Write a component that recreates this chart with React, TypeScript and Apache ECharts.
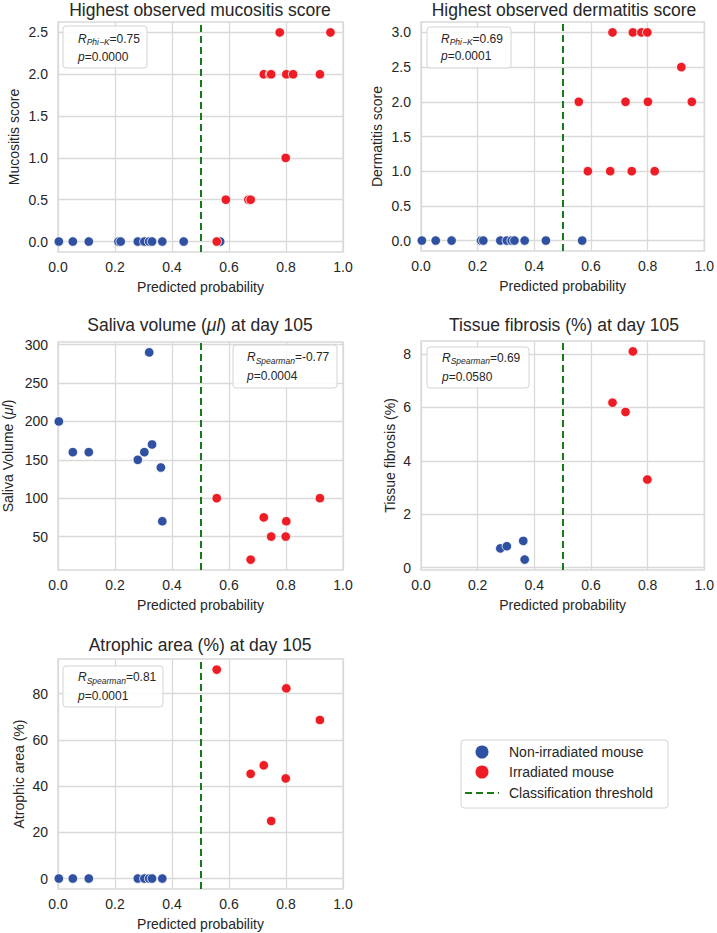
import React, { useEffect, useRef } from 'react';
import * as echarts from 'echarts';

// ---- Data ----
// predicted probabilities per mouse
const nonIrrProb = [0.003, 0.052, 0.108, 0.212, 0.22, 0.28, 0.303, 0.32, 0.33, 0.366, 0.441, 0.569];
const irrProb = [0.557, 0.589, 0.668, 0.676, 0.722, 0.744, 0.748, 0.778, 0.799, 0.801, 0.825, 0.919, 0.956];

// Panel 1: mucositis
const mucoNonIrr = [0, 0, 0, 0, 0, 0, 0, 0, 0, 0, 0, 0];
const mucoIrr = [0, 0.5, 0.5, 0.5, 2, 2, 2, 2.5, 1, 2, 2, 2, 2.5];

// Panel 2: dermatitis
const dermNonIrr = [0, 0, 0, 0, 0, 0, 0, 0, 0, 0, 0, 0];
const dermIrr = [2, 1, 1, 3, 2, 1, 3, 3, 3, 2, 1, 2.5, 2];

// Panel 3: saliva volume
const salivaNonIrrX = [0.003, 0.052, 0.108, 0.28, 0.303, 0.33, 0.32, 0.361, 0.366];
const salivaNonIrrY = [200, 160, 160, 150, 160, 170, 290, 140, 70];
const salivaIrrX = [0.557, 0.676, 0.722, 0.748, 0.801, 0.799, 0.919];
const salivaIrrY = [100, 20, 75, 50, 70, 50, 100];

// Panel 4: tissue fibrosis
const fibNonIrrX = [0.28, 0.303, 0.361, 0.366];
const fibNonIrrY = [0.72, 0.8, 1.0, 0.3];
const fibIrrX = [0.676, 0.722, 0.748, 0.799];
const fibIrrY = [6.18, 5.83, 8.1, 3.3];

// Panel 5: atrophic area
const atrNonIrrX = [0.003, 0.052, 0.108, 0.28, 0.303, 0.32, 0.33, 0.366];
const atrNonIrrY = [0, 0, 0, 0, 0, 0, 0, 0];
const atrIrrX = [0.557, 0.676, 0.722, 0.748, 0.799, 0.801, 0.919];
const atrIrrY = [90.4, 45.3, 49.0, 24.9, 43.3, 82.3, 68.6];

// ticks
const xTicks = [0, 0.2, 0.4, 0.6, 0.8, 1.0];
const mucoTicks = [0, 0.5, 1.0, 1.5, 2.0, 2.5];
const dermTicks = [0, 0.5, 1.0, 1.5, 2.0, 2.5, 3.0];
const salivaTicks = [50, 100, 150, 200, 250, 300];
const fibTicks = [0, 2, 4, 6, 8];
const atrTicks = [0, 20, 40, 60, 80];

const threshold = 0.5;

const FONT = '"Liberation Sans", Arial, sans-serif';
const TXT = '#262626';
const GRIDC = '#d9d9d9';
const BLUE = '#3050a2';
const RED = '#ee1c25';
const GREEN = '#187a18';

const zip = (xs: number[], ys: number[]) => xs.map((x, i) => [x, ys[i]]);

export default function App() {
  const ref = useRef<HTMLDivElement>(null);
  useEffect(() => {
    if (!ref.current) return;
    const chart = echarts.init(ref.current, undefined, { renderer: 'svg' });

    const grids = [
      { left: 58, top: 22, width: 285, height: 230 },
      { left: 421, top: 22, width: 286, height: 229 },
      { left: 58, top: 342, width: 285, height: 228 },
      { left: 421, top: 341, width: 286, height: 229 },
      { left: 58, top: 659, width: 285, height: 230 },
    ];
    const yCfg = [
      { min: -0.125, max: 2.625, ticks: mucoTicks, dec: 1, name: 'Mucositis score', gap: 37 },
      { min: -0.15, max: 3.15, ticks: dermTicks, dec: 1, name: 'Dermatitis score', gap: 37 },
      { min: 6.5, max: 303.5, ticks: salivaTicks, dec: 0, name: 'Saliva Volume ({i|μl})', gap: 43 },
      { min: -0.09, max: 8.49, ticks: fibTicks, dec: 0, name: 'Tissue fibrosis (%)', gap: 24 },
      { min: -4.53, max: 95.0, ticks: atrTicks, dec: 0, name: 'Atrophic area (%)', gap: 32 },
    ];
    const seriesData = [
      [zip(nonIrrProb, mucoNonIrr), zip(irrProb, mucoIrr)],
      [zip(nonIrrProb, dermNonIrr), zip(irrProb, dermIrr)],
      [zip(salivaNonIrrX, salivaNonIrrY), zip(salivaIrrX, salivaIrrY)],
      [zip(fibNonIrrX, fibNonIrrY), zip(fibIrrX, fibIrrY)],
      [zip(atrNonIrrX, atrNonIrrY), zip(atrIrrX, atrIrrY)],
    ];

    const xAxis = grids.map((_, i) => ({
      type: 'value',
      gridIndex: i,
      min: 0,
      max: 1,
      name: 'Predicted probability',
      nameLocation: 'middle',
      nameGap: 28,
      nameTextStyle: { fontFamily: FONT, fontSize: 14, color: TXT },
      axisLine: { show: false },
      axisTick: { show: false, customValues: xTicks },
      axisLabel: {
        customValues: xTicks,
        margin: 8,
        fontFamily: FONT,
        fontSize: 14,
        color: TXT,
        formatter: (v: number) => v.toFixed(1),
      },
      splitLine: { show: true, lineStyle: { color: GRIDC, width: 1.3 } },
    }));
    const yAxis = yCfg.map((c, i) => ({
      type: 'value',
      gridIndex: i,
      min: c.min,
      max: c.max,
      name: c.name,
      nameLocation: 'middle',
      nameGap: c.gap,
      nameTextStyle: {
        fontFamily: FONT,
        fontSize: 14,
        color: TXT,
        rich: { i: { fontFamily: FONT, fontSize: 14, color: TXT, fontStyle: 'italic' } },
      },
      axisLine: { show: false },
      axisTick: { show: false, customValues: c.ticks },
      axisLabel: {
        customValues: c.ticks,
        margin: 10,
        fontFamily: FONT,
        fontSize: 14,
        color: TXT,
        formatter: (v: number) => v.toFixed(c.dec),
      },
      splitLine: { show: true, lineStyle: { color: GRIDC, width: 1.3 } },
    }));

    const series: any[] = [];
    seriesData.forEach((pair, i) => {
      series.push({
        type: 'scatter',
        name: 'Non-irradiated mouse',
        xAxisIndex: i,
        yAxisIndex: i,
        data: pair[0],
        symbolSize: 9.5,
        itemStyle: { color: BLUE, borderColor: '#ffffff', borderWidth: 0.8, opacity: 1 },
        markLine: {
          silent: true,
          symbol: 'none',
          label: { show: false },
          lineStyle: { color: GREEN, type: [7, 4], width: 2 },
          data: [{ xAxis: threshold }],
        },
      });
      series.push({
        type: 'scatter',
        name: 'Irradiated mouse',
        xAxisIndex: i,
        yAxisIndex: i,
        data: pair[1],
        symbolSize: 9.5,
        itemStyle: { color: RED, borderColor: '#ffffff', borderWidth: 0.8, opacity: 1 },
      });
    });

    const titleText = (x: number, y: number, text: string) => ({
      type: 'text',
      x,
      y,
      style: {
        text,
        fontFamily: FONT,
        fontSize: 17.5,
        fill: TXT,
        align: 'center',
        verticalAlign: 'middle',
        rich: { i: { fontFamily: FONT, fontSize: 17.5, fill: TXT, fontStyle: 'italic' } },
      },
    });

    const richAnn = {
      r: { fontFamily: FONT, fontSize: 12, fontStyle: 'italic', fill: TXT },
      s: { fontFamily: FONT, fontSize: 8.5, fontStyle: 'italic', fill: TXT, padding: [7, 0, 0, 0] },
      n: { fontFamily: FONT, fontSize: 12, fill: TXT },
    };
    const ann = (bx: number, by: number, bw: number, bh: number, tx: number, y1: number, y2: number, sub: string, r: string, p: string) => [
      {
        type: 'rect',
        shape: { x: bx, y: by, width: bw, height: bh, r: 3 },
        style: { fill: 'rgba(255,255,255,0.85)', stroke: '#d4d4d4', lineWidth: 1 },
        z: 10,
      },
      {
        type: 'text',
        x: tx,
        y: y1,
        z: 11,
        style: {
          text: `{r|R}{s|${sub}}{n|=${r}}`,
          rich: richAnn,
          align: 'left',
          verticalAlign: 'middle',
        },
      },
      {
        type: 'text',
        x: tx,
        y: y2,
        z: 11,
        style: {
          text: `{r|p}{n|=${p}}`,
          rich: richAnn,
          align: 'left',
          verticalAlign: 'middle',
        },
      },
    ];

    const legend = [
      {
        type: 'rect',
        shape: { x: 461, y: 740, width: 207, height: 68, r: 3 },
        style: { fill: '#ffffff', stroke: '#d4d4d4', lineWidth: 1 },
      },
      { type: 'circle', shape: { cx: 482, cy: 752, r: 6.5 }, style: { fill: BLUE } },
      { type: 'circle', shape: { cx: 482, cy: 772, r: 6.5 }, style: { fill: RED } },
      {
        type: 'line',
        shape: { x1: 465, y1: 793, x2: 499, y2: 793 },
        style: { stroke: GREEN, lineWidth: 2, lineDash: [7, 4] },
      },
      { type: 'text', x: 509, y: 752, style: { text: 'Non-irradiated mouse', fontFamily: FONT, fontSize: 14, fill: TXT, verticalAlign: 'middle' } },
      { type: 'text', x: 509, y: 772, style: { text: 'Irradiated mouse', fontFamily: FONT, fontSize: 14, fill: TXT, verticalAlign: 'middle' } },
      { type: 'text', x: 509, y: 793, style: { text: 'Classification threshold', fontFamily: FONT, fontSize: 14, fill: TXT, verticalAlign: 'middle' } },
    ];

    const graphic = [
      titleText(200, 10, 'Highest observed mucositis score'),
      titleText(564, 10, 'Highest observed dermatitis score'),
      titleText(200, 325, 'Saliva volume ({i|μl}) at day 105'),
      titleText(564, 325, 'Tissue fibrosis (%) at day 105'),
      titleText(200, 645, 'Atrophic area (%) at day 105'),
      ...ann(63, 26, 84, 42, 78, 38.5, 56.5, 'Phi−K', '0.75', '0.0000'),
      ...ann(427, 27, 84, 41, 441, 38.5, 56, 'Phi−K', '0.69', '0.0001'),
      ...ann(233, 345, 104, 43, 247, 357, 376, 'Spearman', '-0.77', '0.0004'),
      ...ann(427, 347, 102, 41, 442, 357.5, 376.5, 'Spearman', '0.69', '0.0580'),
      ...ann(63, 666, 100, 41, 78, 677, 696, 'Spearman', '0.81', '0.0001'),
      ...legend,
    ];

    chart.setOption({
      animation: false,
      backgroundColor: '#ffffff',
      grid: grids.map((g) => ({ ...g, show: true, borderColor: GRIDC, borderWidth: 1.3, backgroundColor: 'transparent' })),
      xAxis,
      yAxis,
      series,
      graphic,
    });
    return () => chart.dispose();
  }, []);
  return <div ref={ref} style={{ position: 'fixed', left: 0, top: 0, width: 717, height: 933 }} />;
}
